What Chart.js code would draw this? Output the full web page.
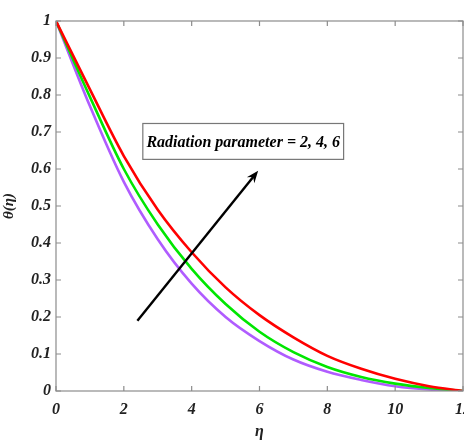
<!DOCTYPE html>
<html>
<head>
<meta charset="utf-8">
<script src="https://cdn.jsdelivr.net/npm/chart.js@4.4.1/dist/chart.umd.min.js"></script>
<style>
  html, body { margin:0; padding:0; background:#fff; overflow:hidden; }
  #wrap { width:480px; height:441px; }
</style>
</head>
<body>
<div id="wrap"><canvas id="thetaChart" width="480" height="441"></canvas></div>
<script>
// temperature profiles theta(eta) for three radiation parameters
var eta = [0, 1, 2, 3, 4, 5, 6, 7, 8, 9, 10, 11, 12];
var thetaRd2 = [1, 0.77, 0.565, 0.41, 0.29, 0.2, 0.135, 0.085, 0.052, 0.03, 0.013, 0.004, 0];
var thetaRd4 = [1, 0.795, 0.60, 0.45, 0.33, 0.235, 0.16, 0.105, 0.065, 0.038, 0.02, 0.008, 0];
var thetaRd6 = [1, 0.815, 0.635, 0.49, 0.375, 0.28, 0.205, 0.145, 0.095, 0.06, 0.033, 0.013, 0];

var xTicks = [0, 2, 4, 6, 8, 10, 12];
var yTicks = [0, 0.1, 0.2, 0.3, 0.4, 0.5, 0.6, 0.7, 0.8, 0.9, 1];

var noteText = 'Radiation parameter = 2, 4, 6';
var noteBox = {x1: 2.56, x2: 8.48, y1: 0.626, y2: 0.723};
var arrowFrom = {x: 2.4, y: 0.19};
var arrowTo = {x: 5.96, y: 0.595};

var serif = '"Liberation Serif", "DejaVu Serif", serif';

function pts(ys){
	var out = [];
	for(var i=0;i<eta.length;i++){
		out.push({x: eta[i], y: ys[i]});
	}
	return out;
}

function line(label, ys, color){
	return {
		label: label,
		data: pts(ys),
		borderColor: color,
		backgroundColor: color,
		borderWidth: 2.6,
		pointRadius: 0,
		fill: false,
		cubicInterpolationMode: 'monotone'
	};
}

// box around the plot with inward ticks on all four sides
var frame = {
	id: 'frame',
	afterDatasetsDraw: function(chart){
		var c = chart.ctx, a = chart.chartArea;
		var xs = chart.scales.x, ys = chart.scales.y;
		c.save();
		c.strokeStyle = '#8c8c8c';
		c.lineWidth = 1.2;
		c.strokeRect(a.left, a.top, a.right - a.left, a.bottom - a.top);
		c.beginPath();
		xTicks.forEach(function(t){
			var px = xs.getPixelForValue(t);
			c.moveTo(px, a.bottom); c.lineTo(px, a.bottom - 5);
			c.moveTo(px, a.top); c.lineTo(px, a.top + 5);
		});
		yTicks.forEach(function(t){
			var py = ys.getPixelForValue(t);
			c.moveTo(a.left, py); c.lineTo(a.left + 5, py);
			c.moveTo(a.right, py); c.lineTo(a.right - 5, py);
		});
		c.stroke();

		// text box
		var bx1 = xs.getPixelForValue(noteBox.x1), bx2 = xs.getPixelForValue(noteBox.x2);
		var by1 = ys.getPixelForValue(noteBox.y2), by2 = ys.getPixelForValue(noteBox.y1);
		c.fillStyle = '#fff';
		c.fillRect(bx1, by1, bx2 - bx1, by2 - by1);
		c.strokeStyle = '#777';
		c.lineWidth = 1.2;
		c.strokeRect(bx1, by1, bx2 - bx1, by2 - by1);
		c.fillStyle = '#000';
		c.font = 'italic bold 16px ' + serif;
		c.textAlign = 'center';
		c.textBaseline = 'middle';
		c.fillText(noteText, (bx1 + bx2) / 2, (by1 + by2) / 2 + 1);

		// arrow
		var ax = xs.getPixelForValue(arrowFrom.x), ay = ys.getPixelForValue(arrowFrom.y);
		var hx = xs.getPixelForValue(arrowTo.x), hy = ys.getPixelForValue(arrowTo.y);
		var ang = Math.atan2(hy - ay, hx - ax);
		c.strokeStyle = '#000';
		c.fillStyle = '#000';
		c.lineWidth = 2.4;
		c.beginPath();
		c.moveTo(ax, ay);
		c.lineTo(hx - 6 * Math.cos(ang), hy - 6 * Math.sin(ang));
		c.stroke();
		c.beginPath();
		c.moveTo(hx, hy);
		c.lineTo(hx - 13 * Math.cos(ang - 0.38), hy - 13 * Math.sin(ang - 0.38));
		c.lineTo(hx - 8 * Math.cos(ang), hy - 8 * Math.sin(ang));
		c.lineTo(hx - 13 * Math.cos(ang + 0.38), hy - 13 * Math.sin(ang + 0.38));
		c.closePath();
		c.fill();
		c.restore();
	}
};

var ctx = document.getElementById('thetaChart');
var myChart = new Chart(ctx, {
	type: 'line',
	data: {
		datasets: [
			line('Rd = 6', thetaRd6, '#ff0000'),
			line('Rd = 4', thetaRd4, '#00e600'),
			line('Rd = 2', thetaRd2, '#b05cff')
		]
	},
	options: {
		responsive: false,
		animation: false,
		layout: { padding: { top: 21, right: 0, left: 0, bottom: 0 } },
		plugins: { legend: { display: false }, tooltip: { enabled: false } },
		scales: {
			x: {
				type: 'linear',
				min: 0,
				max: 12,
				afterBuildTicks: function(s){ s.ticks = xTicks.map(function(v){ return {value: v}; }); },
				afterFit: function(s){ s.height = 50; },
				grid: { display: false, drawTicks: false },
				border: { display: false },
				ticks: {
					padding: 9,
					maxRotation: 0,
					color: '#222',
					font: { family: serif, size: 16, style: 'italic', weight: 'bold' }
				},
				title: {
					display: true,
					text: 'η',
					color: '#222',
					padding: { top: 3, bottom: 0 },
					font: { family: serif, size: 16, style: 'italic', weight: 'bold' }
				}
			},
			y: {
				min: 0,
				max: 1,
				afterBuildTicks: function(s){ s.ticks = yTicks.map(function(v){ return {value: v}; }); },
				afterFit: function(s){ s.width = 56; },
				grid: { display: false, drawTicks: false },
				border: { display: false },
				ticks: {
					padding: 5,
					color: '#222',
					callback: function(v){ return String(Math.round(v * 10) / 10); },
					font: { family: serif, size: 16, style: 'italic', weight: 'bold' }
				},
				title: {
					display: true,
					text: 'θ(η)',
					color: '#222',
					padding: { top: 0, bottom: 2 },
					font: { family: serif, size: 15, style: 'italic', weight: 'bold' }
				}
			}
		}
	},
	plugins: [frame]
});
</script>
</body>
</html>
